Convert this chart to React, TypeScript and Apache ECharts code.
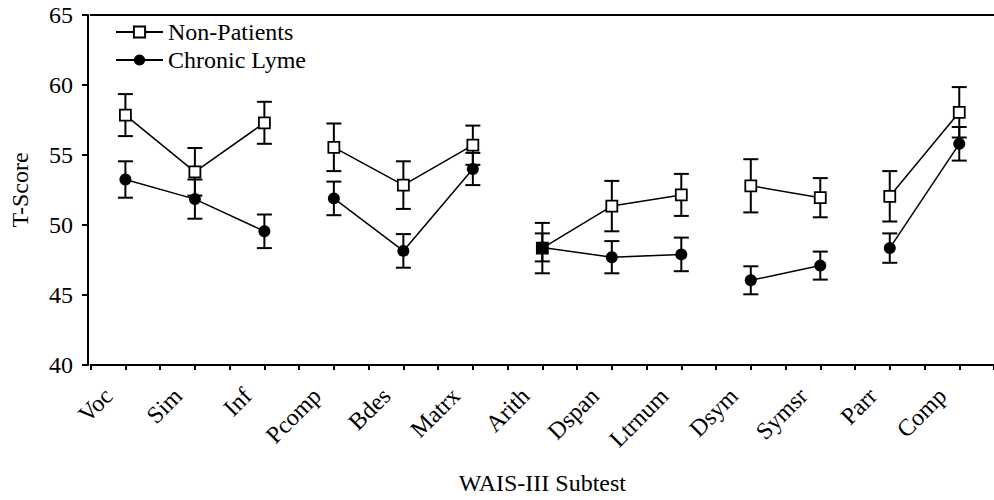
import React, { useEffect, useRef } from "react";
import * as echarts from "echarts";

const categories = ["Voc", "Sim", "Inf", "Pcomp", "Bdes", "Matrx", "Arith", "Dspan", "Ltrnum", "Dsym", "Symsr", "Parr", "Comp"];
const nonPatientsMean = [57.85, 53.8, 57.3, 55.55, 52.85, 55.7, 48.35, 51.35, 52.15, 52.8, 51.95, 52.05, 58.05];
const nonPatientsErr = [1.5, 1.7, 1.5, 1.7, 1.7, 1.4, 1.8, 1.8, 1.5, 1.9, 1.4, 1.8, 1.8];
const lymeMean = [53.25, 51.85, 49.55, 51.9, 48.15, 54.0, 48.4, 47.7, 47.9, 46.05, 47.1, 48.35, 55.8];
const lymeErr = [1.3, 1.4, 1.2, 1.2, 1.2, 1.15, 1.0, 1.15, 1.2, 1.0, 1.0, 1.05, 1.2];
const groups = [[0, 1, 2], [3, 4, 5], [6, 7, 8], [9, 10], [11, 12]];
const yTicks = [40, 45, 50, 55, 60, 65];

const FONT = "'Liberation Serif', 'Times New Roman', serif";

export default function App() {
  const ref = useRef<HTMLDivElement>(null);
  useEffect(() => {
    if (!ref.current) return;
    const chart = echarts.init(ref.current, null, { renderer: "svg" });

    const series: any[] = [];
    const errSeries = (name: string, mean: number[], err: number[]) => ({
      type: "custom",
      name: name + " err",
      xAxisIndex: 0,
      yAxisIndex: 0,
      z: 1,
      silent: true,
      data: mean.map((m, i) => [i, m - err[i], m + err[i]]),
      encode: { x: 0, y: [1, 2] },
      renderItem: (params: any, api: any) => {
        const x = api.value(0);
        const lo = api.coord([x, api.value(1)]);
        const hi = api.coord([x, api.value(2)]);
        const hw = 7.5;
        const style = { stroke: "#000", lineWidth: 2, fill: null };
        return {
          type: "group",
          children: [
            { type: "line", shape: { x1: lo[0], y1: lo[1], x2: hi[0], y2: hi[1] }, style },
            { type: "line", shape: { x1: lo[0] - hw, y1: lo[1], x2: lo[0] + hw, y2: lo[1] }, style },
            { type: "line", shape: { x1: hi[0] - hw, y1: hi[1], x2: hi[0] + hw, y2: hi[1] }, style },
          ],
        };
      },
    });
    series.push(errSeries("Non-Patients", nonPatientsMean, nonPatientsErr));
    series.push(errSeries("Chronic Lyme", lymeMean, lymeErr));

    groups.forEach((g) => {
      series.push({
        type: "line",
        name: "Non-Patients",
        xAxisIndex: 0,
        yAxisIndex: 0,
        z: 3,
        symbol: "rect",
        symbolSize: 11,
        showAllSymbol: true,
        lineStyle: { color: "#000", width: 1.5 },
        itemStyle: { color: "#fff", borderColor: "#000", borderWidth: 1.8 },
        data: categories.map((_, i) => {
          if (!g.includes(i)) return "-";
          const same = Math.abs(nonPatientsMean[i] - lymeMean[i]) < 0.3;
          return same
            ? { value: nonPatientsMean[i], itemStyle: { color: "#000" } }
            : nonPatientsMean[i];
        }),
      });
      series.push({
        type: "line",
        name: "Chronic Lyme",
        xAxisIndex: 0,
        yAxisIndex: 0,
        z: 4,
        symbol: "circle",
        symbolSize: 12,
        showAllSymbol: true,
        lineStyle: { color: "#000", width: 1.5 },
        itemStyle: { color: "#000", borderColor: "#000", borderWidth: 0 },
        data: categories.map((_, i) => (g.includes(i) ? lymeMean[i] : "-")),
      });
    });

    chart.setOption({
      animation: false,
      backgroundColor: "#fff",
      grid: { left: 90.66, right: -7.7, top: 15, bottom: 134, containLabel: false },
      legend: {
        data: ["Non-Patients", "Chronic Lyme"],
        orient: "vertical",
        left: 110,
        top: 15,
        itemWidth: 47,
        itemHeight: 14,
        itemGap: 4,
        textStyle: { fontFamily: FONT, fontSize: 24, color: "#000", lineHeight: 23 },
        selectedMode: false,
      },
      xAxis: [
        {
          type: "category",
          data: categories,
          position: "bottom",
          boundaryGap: true,
          axisLine: { show: true, onZero: false, lineStyle: { color: "#000", width: 2 } },
          axisTick: { show: true, alignWithLabel: false, length: 5, lineStyle: { color: "#000", width: 2 } },
          axisLabel: {
            interval: 0,
            rotate: 45,
            margin: 10,
            padding: [0, 24, 0, 0],
            fontFamily: FONT,
            fontSize: 24,
            color: "#000",
          },
          name: "WAIS-III Subtest",
          nameLocation: "middle",
          nameGap: 106,
          nameTextStyle: { fontFamily: FONT, fontSize: 24, color: "#000" },
          splitLine: { show: false },
        },
        {
          type: "category",
          data: categories,
          position: "bottom",
          boundaryGap: true,
          axisLine: { show: false, onZero: false },
          axisTick: { show: true, alignWithLabel: true, length: 5, lineStyle: { color: "#000", width: 2 } },
          axisLabel: { show: false },
          splitLine: { show: false },
        },
        {
          type: "category",
          data: categories,
          position: "top",
          boundaryGap: true,
          axisLine: { show: true, onZero: false, lineStyle: { color: "#000", width: 2 } },
          axisTick: { show: false },
          axisLabel: { show: false },
          splitLine: { show: false },
        },
      ],
      yAxis: {
        type: "value",
        min: yTicks[0],
        max: yTicks[yTicks.length - 1],
        interval: 5,
        offset: 2.66,
        axisLine: { show: true, lineStyle: { color: "#000", width: 2 } },
        axisTick: { show: true, length: 6, lineStyle: { color: "#000", width: 2 } },
        axisLabel: { margin: 15, fontFamily: FONT, fontSize: 24, color: "#000" },
        splitLine: { show: false },
        name: "T-Score",
        nameLocation: "middle",
        nameRotate: 90,
        nameGap: 56,
        nameTextStyle: { fontFamily: FONT, fontSize: 24, color: "#000" },
      },
      series,
    });
    return () => chart.dispose();
  }, []);
  return (
    <div
      ref={ref}
      style={{ position: "fixed", left: 0, top: 0, width: 994, height: 500, background: "#fff" }}
    />
  );
}
